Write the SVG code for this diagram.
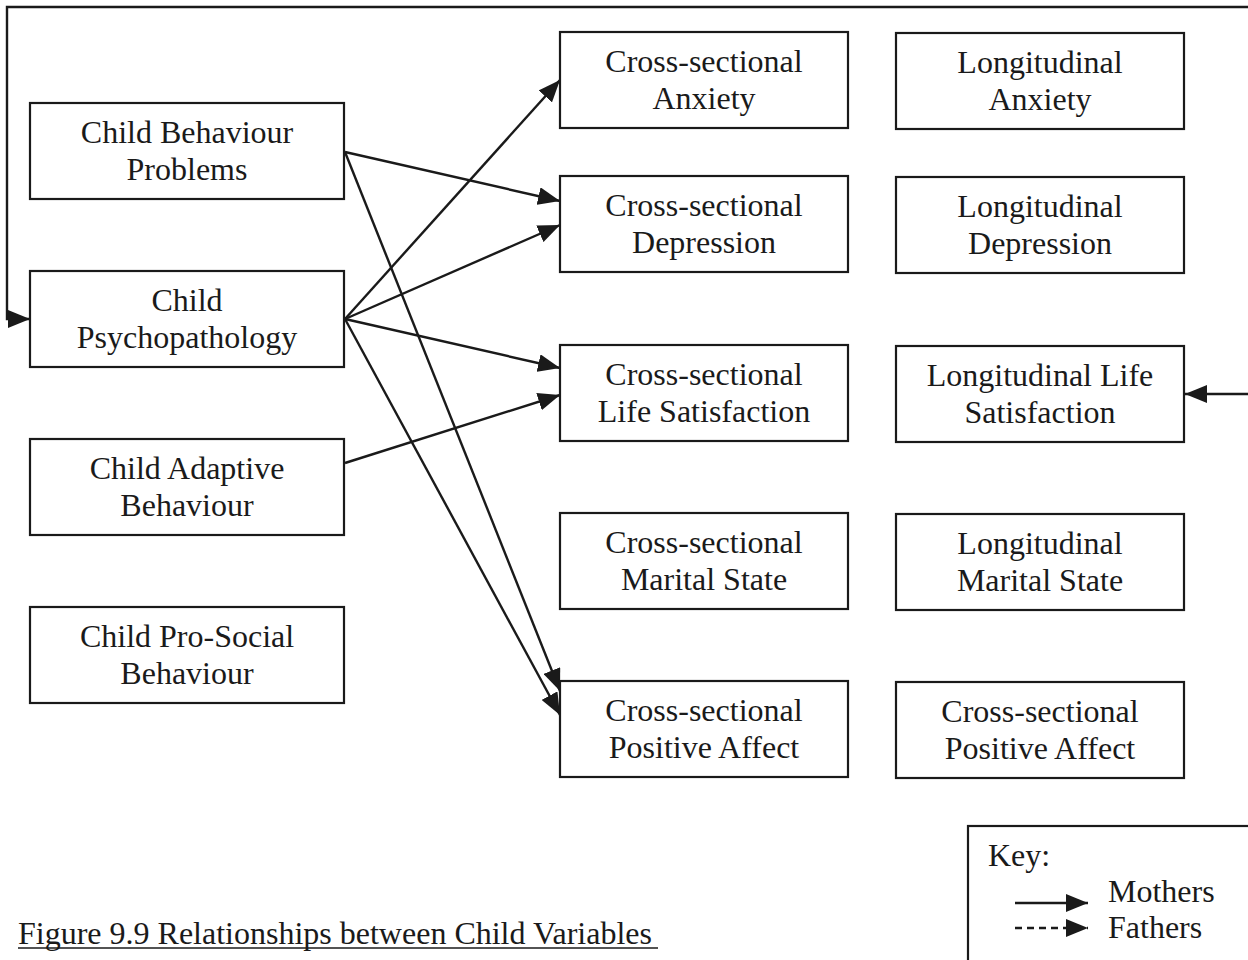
<svg xmlns="http://www.w3.org/2000/svg" width="1248" height="960" viewBox="0 0 1248 960">
  <style>
    .box { fill: #ffffff; stroke: #1a1a1a; stroke-width: 2.2; }
    .lbl { font-family: "Liberation Serif", "Times New Roman", serif; font-size: 32px; fill: #1a1a1a; text-anchor: middle; }
    .txt { font-family: "Liberation Serif", "Times New Roman", serif; font-size: 32px; fill: #1a1a1a; }
    .edge { fill: none; stroke: #1a1a1a; stroke-width: 2.4; }
  </style>
  <defs>
    <marker id="arrow" viewBox="0 0 22 18" refX="22" refY="9" markerWidth="22" markerHeight="18" markerUnits="userSpaceOnUse" orient="auto">
      <path d="M0,0 L22,9 L0,18 Z" fill="#1a1a1a"/>
    </marker>
  </defs>
  <rect width="1248" height="960" fill="#ffffff"/>

  <!-- connectors -->
  <g id="connectors">
    <!-- feedback loop across the top -->
    <polyline class="edge" points="1248,7 7,7 7,319 30,319" marker-end="url(#arrow)"/>
    <line class="edge" x1="1248" y1="394" x2="1185" y2="394" marker-end="url(#arrow)"/>
    <!-- Child Behaviour Problems -->
    <line class="edge" x1="345" y1="152" x2="560" y2="201" marker-end="url(#arrow)"/>
    <line class="edge" x1="345" y1="152" x2="560" y2="691" marker-end="url(#arrow)"/>
    <!-- Child Psychopathology -->
    <line class="edge" x1="345" y1="319" x2="560" y2="80" marker-end="url(#arrow)"/>
    <line class="edge" x1="345" y1="319" x2="560" y2="225" marker-end="url(#arrow)"/>
    <line class="edge" x1="345" y1="319" x2="560" y2="368" marker-end="url(#arrow)"/>
    <line class="edge" x1="345" y1="319" x2="560" y2="715" marker-end="url(#arrow)"/>
    <!-- Child Adaptive Behaviour -->
    <line class="edge" x1="345" y1="463" x2="560" y2="395" marker-end="url(#arrow)"/>
  </g>

  <!-- child variables -->
  <g id="child-behaviour-problems">
    <rect class="box" x="30" y="103" width="314" height="96"/>
    <text class="lbl" x="187" y="143">Child Behaviour</text>
    <text class="lbl" x="187" y="180">Problems</text>
  </g>
  <g id="child-psychopathology">
    <rect class="box" x="30" y="271" width="314" height="96"/>
    <text class="lbl" x="187" y="311">Child</text>
    <text class="lbl" x="187" y="348">Psychopathology</text>
  </g>
  <g id="child-adaptive-behaviour">
    <rect class="box" x="30" y="439" width="314" height="96"/>
    <text class="lbl" x="187" y="479">Child Adaptive</text>
    <text class="lbl" x="187" y="516">Behaviour</text>
  </g>
  <g id="child-pro-social-behaviour">
    <rect class="box" x="30" y="607" width="314" height="96"/>
    <text class="lbl" x="187" y="647">Child Pro-Social</text>
    <text class="lbl" x="187" y="684">Behaviour</text>
  </g>

  <!-- cross-sectional outcomes -->
  <g id="cs-anxiety">
    <rect class="box" x="560" y="32" width="288" height="96"/>
    <text class="lbl" x="704" y="72">Cross-sectional</text>
    <text class="lbl" x="704" y="109">Anxiety</text>
  </g>
  <g id="cs-depression">
    <rect class="box" x="560" y="176" width="288" height="96"/>
    <text class="lbl" x="704" y="216">Cross-sectional</text>
    <text class="lbl" x="704" y="253">Depression</text>
  </g>
  <g id="cs-life-satisfaction">
    <rect class="box" x="560" y="345" width="288" height="96"/>
    <text class="lbl" x="704" y="385">Cross-sectional</text>
    <text class="lbl" x="704" y="422">Life Satisfaction</text>
  </g>
  <g id="cs-marital-state">
    <rect class="box" x="560" y="513" width="288" height="96"/>
    <text class="lbl" x="704" y="553">Cross-sectional</text>
    <text class="lbl" x="704" y="590">Marital State</text>
  </g>
  <g id="cs-positive-affect">
    <rect class="box" x="560" y="681" width="288" height="96"/>
    <text class="lbl" x="704" y="721">Cross-sectional</text>
    <text class="lbl" x="704" y="758">Positive Affect</text>
  </g>

  <!-- longitudinal outcomes -->
  <g id="long-anxiety">
    <rect class="box" x="896" y="33" width="288" height="96"/>
    <text class="lbl" x="1040" y="73">Longitudinal</text>
    <text class="lbl" x="1040" y="110">Anxiety</text>
  </g>
  <g id="long-depression">
    <rect class="box" x="896" y="177" width="288" height="96"/>
    <text class="lbl" x="1040" y="217">Longitudinal</text>
    <text class="lbl" x="1040" y="254">Depression</text>
  </g>
  <g id="long-life-satisfaction">
    <rect class="box" x="896" y="346" width="288" height="96"/>
    <text class="lbl" x="1040" y="386">Longitudinal Life</text>
    <text class="lbl" x="1040" y="423">Satisfaction</text>
  </g>
  <g id="long-marital-state">
    <rect class="box" x="896" y="514" width="288" height="96"/>
    <text class="lbl" x="1040" y="554">Longitudinal</text>
    <text class="lbl" x="1040" y="591">Marital State</text>
  </g>
  <g id="long-positive-affect">
    <rect class="box" x="896" y="682" width="288" height="96"/>
    <text class="lbl" x="1040" y="722">Cross-sectional</text>
    <text class="lbl" x="1040" y="759">Positive Affect</text>
  </g>

  <!-- key -->
  <g id="key">
    <rect class="box" x="968" y="826" width="300" height="160"/>
    <text class="txt" x="988" y="866">Key:</text>
    <line class="edge" x1="1015" y1="903" x2="1088" y2="903" marker-end="url(#arrow)"/>
    <line class="edge" x1="1015" y1="928" x2="1088" y2="928" stroke-dasharray="7,5" marker-end="url(#arrow)"/>
    <text class="txt" x="1108" y="902">Mothers</text>
    <text class="txt" x="1108" y="938">Fathers</text>
  </g>

  <!-- caption -->
  <g id="caption">
    <text class="txt" x="18" y="944">Figure 9.9 Relationships between Child Variables</text>
    <line x1="18" y1="948" x2="658" y2="948" stroke="#1a1a1a" stroke-width="1.6"/>
  </g>
</svg>
